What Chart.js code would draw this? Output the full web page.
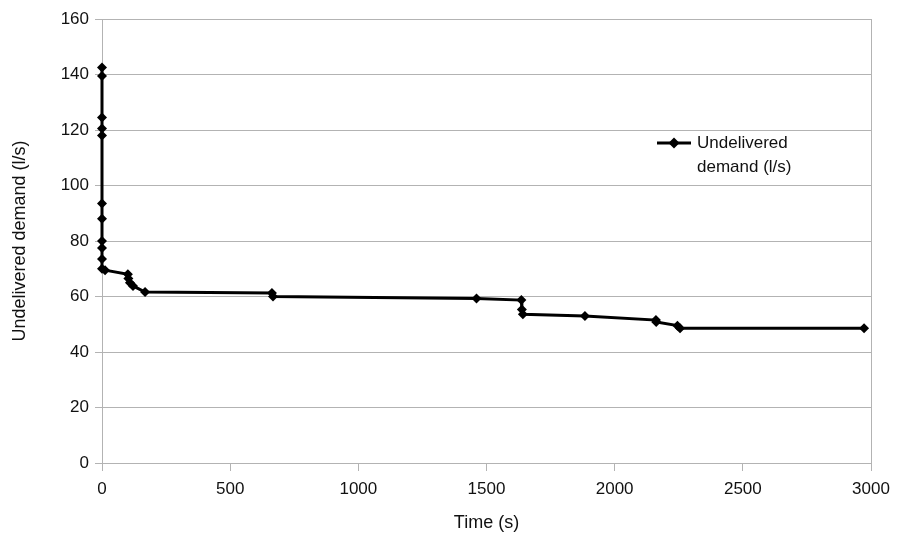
<!DOCTYPE html>
<html>
<head>
<meta charset="utf-8">
<script src="https://cdn.jsdelivr.net/npm/chart.js@4.4.1/dist/chart.umd.min.js"></script>
<style>
  html, body { margin: 0; padding: 0; background: #fff; }
  #wrap { width: 899px; height: 538px; }
</style>
</head>
<body>
<div id="wrap"><canvas id="demandChart" width="899" height="538"></canvas></div>
<script>
// time in seconds and undelivered demand (l/s)
var timeS = [0, 0, 0, 0, 0, 0, 0, 0, 0, 0, 0, 12, 101, 103, 109, 121, 168, 663, 667, 1461, 1636, 1638, 1642, 1884, 2161, 2162, 2245, 2255, 2973];
var demand = [142.5, 139.5, 124.5, 120.5, 118, 93.5, 88, 80, 77.5, 73.5, 70, 69.5, 68, 66.5, 65, 63.8, 61.6, 61.3, 60, 59.3, 58.7, 55.3, 53.6, 53, 51.5, 50.8, 49.5, 48.6, 48.6];
var seriesLabel = ['Undelivered', 'demand (l/s)'];
var xTitle = 'Time (s)';
var yTitle = 'Undelivered demand (l/s)';

var points = [];
for (var i = 0; i < timeS.length; i++) {
  points.push({ x: timeS[i], y: demand[i] });
}

var fontFam = '"Liberation Sans", Arial, sans-serif';
var gridGray = '#b3b3b3';

// legend drawn inside the plot, line + diamond with two-line text
var insideLegend = {
  id: 'insideLegend',
  afterDraw: function(chart) {
    var ctx = chart.ctx;
    var x0 = 657, y0 = 143;
    ctx.save();
    ctx.strokeStyle = '#000';
    ctx.lineWidth = 3;
    ctx.beginPath();
    ctx.moveTo(x0, y0);
    ctx.lineTo(x0 + 34, y0);
    ctx.stroke();
    ctx.fillStyle = '#000';
    ctx.beginPath();
    ctx.moveTo(x0 + 17 - 5.5, y0);
    ctx.lineTo(x0 + 17, y0 - 5.5);
    ctx.lineTo(x0 + 17 + 5.5, y0);
    ctx.lineTo(x0 + 17, y0 + 5.5);
    ctx.closePath();
    ctx.fill();
    ctx.font = '17px ' + fontFam;
    ctx.fillStyle = '#111';
    ctx.textBaseline = 'middle';
    ctx.fillText(seriesLabel[0], x0 + 40, y0);
    ctx.fillText(seriesLabel[1], x0 + 40, y0 + 24);
    ctx.restore();
  }
};

function plainNumber(v) { return String(v); }

var myChart = document.querySelector('#demandChart').getContext('2d');

new Chart(myChart, {
  type: 'scatter',
  data: {
    datasets: [{
      label: seriesLabel.join(' '),
      data: points,
      showLine: true,
      clip: false,
      borderColor: '#000',
      backgroundColor: '#000',
      borderWidth: 3,
      pointStyle: 'rectRot',
      pointRadius: 5,
      pointBorderWidth: 0,
      tension: 0
    }]
  },
  options: {
    responsive: false,
    animation: false,
    layout: { padding: { top: 19, right: 28, left: 0, bottom: 0 } },
    plugins: {
      legend: { display: false },
      tooltip: { enabled: false }
    },
    scales: {
      x: {
        type: 'linear',
        min: 0,
        max: 3000,
        afterFit: function(s) { s.height = 75; },
        ticks: {
          stepSize: 500,
          color: '#111',
          font: { family: fontFam, size: 17 },
          padding: 8,
          callback: plainNumber
        },
        grid: {
          color: function(c) { return (c.tick && c.tick.value === 3000) ? gridGray : 'rgba(0,0,0,0)'; },
          tickColor: gridGray,
          tickLength: 8,
          lineWidth: 1
        },
        border: { color: gridGray, width: 1 },
        title: {
          display: true,
          text: xTitle,
          color: '#111',
          font: { family: fontFam, size: 18 },
          padding: { top: 4, bottom: 4 }
        }
      },
      y: {
        min: 0,
        max: 160,
        afterFit: function(s) { s.width = 102; },
        ticks: {
          stepSize: 20,
          color: '#111',
          font: { family: fontFam, size: 17 },
          padding: 6,
          callback: plainNumber
        },
        grid: {
          color: gridGray,
          tickColor: gridGray,
          tickLength: 7,
          lineWidth: 1
        },
        border: { color: gridGray, width: 1 },
        title: {
          display: true,
          text: yTitle,
          color: '#111',
          font: { family: fontFam, size: 18 },
          padding: 9
        }
      }
    }
  },
  plugins: [insideLegend]
});
</script>
</body>
</html>
